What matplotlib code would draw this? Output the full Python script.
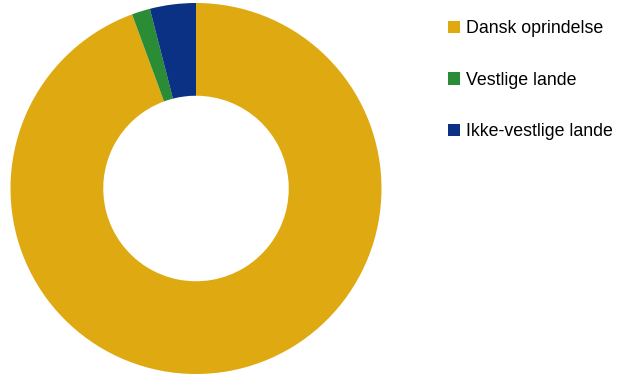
#!/usr/bin/env python3
import matplotlib
matplotlib.use("Agg")
import matplotlib.pyplot as plt
from matplotlib.patches import Patch

# --- Data ---
labels = ["Dansk oprindelse", "Vestlige lande", "Ikke-vestlige lande"]
shares = [94.4, 1.6, 4.0]
colors = ["#DFA911", "#2A8C34", "#0A3183"]

plt.rcParams["font.family"] = ["Liberation Sans", "DejaVu Sans"]

fig = plt.figure(figsize=(6.27, 3.74), dpi=100)

# donut occupies a square of ~371 px at the left
ax = fig.add_axes([10.5 / 627, 0.0, 371 / 627, 371 / 374])
ax.pie(
    shares,
    colors=colors,
    startangle=90,
    counterclock=False,
    radius=1.0,
    wedgeprops=dict(width=0.5, linewidth=0),
)
ax.set_xlim(-1, 1)
ax.set_ylim(-1, 1)
ax.set_aspect("equal")
ax.axis("off")

handles = [Patch(facecolor=c, edgecolor="none") for c in colors]
fig.legend(
    handles,
    labels,
    loc="upper left",
    bbox_to_anchor=(448 / 627, 1 - 20 / 374),
    frameon=False,
    fontsize=12.8,
    handlelength=0.7,
    handleheight=0.7,
    handletextpad=0.3,
    labelspacing=1.95,
    borderaxespad=0,
    borderpad=0,
)

fig.savefig("out.png", dpi=100)
